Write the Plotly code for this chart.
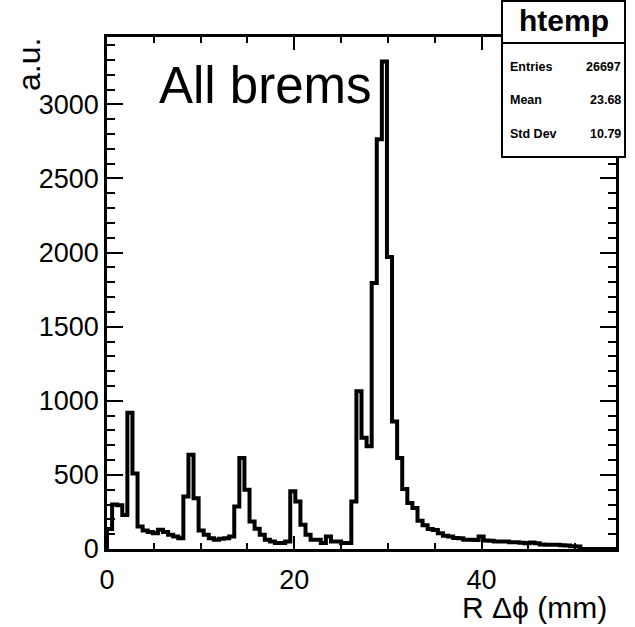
import numpy as np
import plotly.graph_objects as go

# ---- data ----
x_min, x_max, n_bins = 0.0, 54.36, 100
counts = [
    135, 300, 295, 230, 920, 510, 152, 125, 114, 107,
    130, 114, 96, 84, 73, 355, 636, 343, 125, 96,
    73, 62, 70, 73, 84, 287, 614, 400, 186, 137,
    96, 62, 51, 40, 40, 50, 389, 321, 164, 96,
    62, 62, 40, 84, 51, 51, 40, 40, 321, 1065,
    750, 693, 1795, 2765, 3290, 1970, 861, 614, 405, 310,
    276, 190, 160, 135, 128, 107, 90, 84, 75, 73,
    62, 62, 60, 84, 57, 55, 51, 51, 50, 46,
    46, 42, 39, 44, 38, 30, 28, 28, 28, 26,
    24, 18, 17, 0, 0, 0, 0, 0, 0, 0,
]
x_ticks = [0, 20, 40]
y_ticks = [0, 500, 1000, 1500, 2000, 2500, 3000]
stats_title = "htemp"
stats_labels = ["Entries", "Mean", "Std Dev"]
stats_values = ["26697", "23.68", "10.79"]
text_label = "All brems"
x_title = "R Δϕ (mm)"
y_title = "a.u."

edges = np.linspace(x_min, x_max, n_bins + 1)
xs = np.concatenate([[edges[0]], edges])
ys = np.concatenate([[0], counts, [counts[-1]]])
y_max = 1.05 * max(counts)

W, H = 635, 627
L, R, T, B = 107, 19, 37, 78
pw, ph = W - L - R, H - T - B


def px(x):
    return (x - L) / pw


def py(y):
    return (H - B - y) / ph


FONT = "Liberation Sans, Arial, Helvetica, sans-serif"

fig = go.Figure()
fig.add_trace(go.Scatter(
    x=xs, y=ys, mode="lines", line=dict(color="black", width=4, shape="hv"),
    hoverinfo="skip", showlegend=False,
))

axis_common = dict(
    showgrid=False, zeroline=False, showline=True, linecolor="black", linewidth=2.5,
    mirror="allticks", ticks="inside", tickcolor="black", tickwidth=1.5,
    tickfont=dict(family=FONT, size=27, color="black"),
)
fig.update_xaxes(range=[x_min, x_max], tickmode="array", tickvals=x_ticks,
                 ticklen=13, ticklabelstandoff=5,
                 minor=dict(ticks="inside", dtick=5, ticklen=6,
                            tickcolor="black", tickwidth=1.5),
                 **axis_common)
fig.update_yaxes(range=[0, y_max], tickmode="array", tickvals=y_ticks,
                 ticklen=16,
                 minor=dict(ticks="inside", dtick=100, ticklen=8,
                            tickcolor="black", tickwidth=1.5),
                 **axis_common)

annotations = [
    dict(text=text_label, x=px(157), y=py(85), xanchor="left", yanchor="middle",
         font=dict(family=FONT, size=51, color="black")),
    dict(text=x_title, x=px(609), y=py(607), xanchor="right", yanchor="middle",
         font=dict(family=FONT, size=30, color="black")),
    dict(text=y_title, x=px(29), y=py(65), xanchor="center", yanchor="middle",
         textangle=-90, font=dict(family=FONT, size=32, color="black")),
    dict(text="<b>" + stats_title + "</b>", x=px(564), y=py(20), xanchor="center",
         yanchor="middle", font=dict(family=FONT, size=30, color="black")),
]
row_y = [67, 100, 134]
for lab, val, ry in zip(stats_labels, stats_values, row_y):
    annotations.append(dict(text="<b>" + lab + "</b>", x=px(508), y=py(ry),
                            xanchor="left", yanchor="middle",
                            font=dict(family=FONT, size=12.5, color="black")))
    annotations.append(dict(text="<b>" + val + "</b>", x=px(623), y=py(ry),
                            xanchor="right", yanchor="middle",
                            font=dict(family=FONT, size=12.5, color="black")))
for a in annotations:
    a.update(xref="paper", yref="paper", showarrow=False)

shapes = [
    dict(type="rect", xref="paper", yref="paper", x0=px(502), x1=px(625),
         y0=py(157), y1=py(1), fillcolor="white", line=dict(color="black", width=2),
         layer="above"),
    dict(type="line", xref="paper", yref="paper", x0=px(502), x1=px(625),
         y0=py(43), y1=py(43), line=dict(color="black", width=2), layer="above"),
]

fig.update_layout(
    width=W, height=H, margin=dict(l=L, r=R, t=T, b=B, autoexpand=False),
    paper_bgcolor="white", plot_bgcolor="white",
    annotations=annotations, shapes=shapes,
)
fig.write_html("out.html", config={"displayModeBar": False},
               post_script="document.body.style.margin='0';document.body.style.overflow='hidden';")
